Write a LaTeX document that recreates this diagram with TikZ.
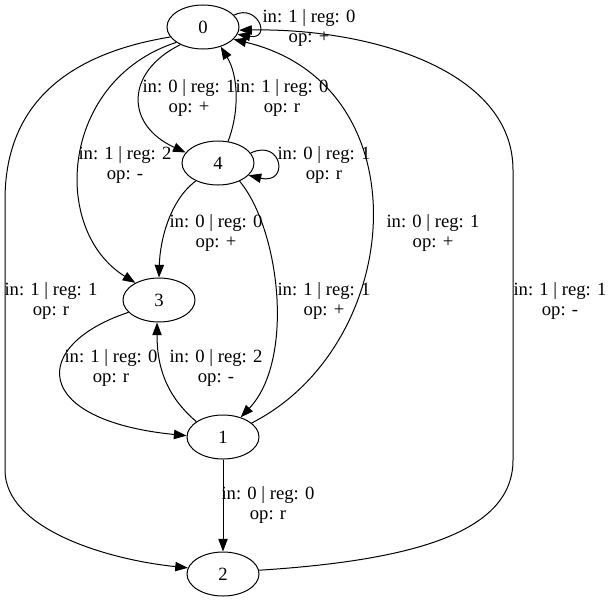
\documentclass[tikz,border=0pt]{standalone}
\usepackage{fontspec}
\setmainfont{Liberation Serif}
\usetikzlibrary{shapes.geometric}
\usetikzlibrary{arrows.meta}
\tikzset{
  state/.style={draw,ellipse,minimum width=54pt,minimum height=33pt,inner sep=0pt,line width=0.75pt},
  trans/.style={-{Triangle[length=9.5pt,width=7pt]},line width=0.75pt},
  translabel/.style={align=center,inner sep=0pt}
}
\begin{document}
\begin{tikzpicture}[x=0.75pt,y=-0.75pt,font=\fontsize{14}{15.5}\selectfont]
\def \lab #1#2#3{in: #1 \textbar{} reg: #2\\op: #3}
\useasboundingbox (0,0) rectangle (609,603);
% states
\node[state] (s0) at (203,27) {0};
\node[state] (s4) at (218,163) {4};
\node[state] (s3) at (159,300) {3};
\node[state] (s1) at (223,437) {1};
\node[state] (s2) at (223,574) {2};
% transitions
\draw[trans] (s0.21) .. controls (258,3) and (272,40) .. (s0.-12);
\draw[trans] (s4.17) .. controls (282,138) and (290,185) .. (s4.-22);
\draw[trans] (s0.218) .. controls (125,72) and (125,125) .. (s4.162);
\draw[trans] (s4.65) .. controls (240,110) and (238,75) .. (s0.-48);
\draw[trans] (s0.210) .. controls (60,80) and (50,230) .. (s3.144);
\draw[trans] (s4.219) .. controls (170,200) and (160,240) .. (s3.90);
\draw[trans] (s4.-40) .. controls (280,230) and (295,360) .. (s1.48);
\draw[trans] (s1.26) .. controls (405,345) and (425,85) .. (s0.-22);
\draw[trans] (s0.197) .. controls (60,55) and (5,110) .. (5,200) -- (5,470)
  .. controls (5,530) and (110,560) .. (s2.170);
\draw[trans] (s2.6) .. controls (420,560) and (513,530) .. (513,460) -- (513,170)
  .. controls (513,70) and (370,28) .. (s0.-5);
\draw[trans] (s3.202) .. controls (30,345) and (30,420) .. (s1.178);
\draw[trans] (s1.150) .. controls (165,395) and (157,365) .. (s3.265);
\draw[trans] (s1) -- (s2);
% labels
\node[translabel] (t00) at (309,28) {\lab{1}{0}{+}};
\node[translabel] (t04) at (189,98) {\lab{0}{1}{+}};
\node[translabel] (t40) at (282,98) {\lab{1}{0}{r}};
\node[translabel] (t03) at (125,165) {\lab{1}{2}{-}};
\node[translabel] (t44) at (324,165) {\lab{0}{1}{r}};
\node[translabel] (t43) at (216,233) {\lab{0}{0}{+}};
\node[translabel] (t10) at (433,233) {\lab{0}{1}{+}};
\node[translabel] (t02) at (51,301) {\lab{1}{1}{r}};
\node[translabel] (t41) at (324,301) {\lab{1}{1}{+}};
\node[translabel] (t20) at (560,301) {\lab{1}{1}{-}};
\node[translabel] (t31) at (111,368) {\lab{1}{0}{r}};
\node[translabel] (t13) at (216,368) {\lab{0}{2}{-}};
\node[translabel] (t12) at (268,505) {\lab{0}{0}{r}};
\end{tikzpicture}
\end{document}
